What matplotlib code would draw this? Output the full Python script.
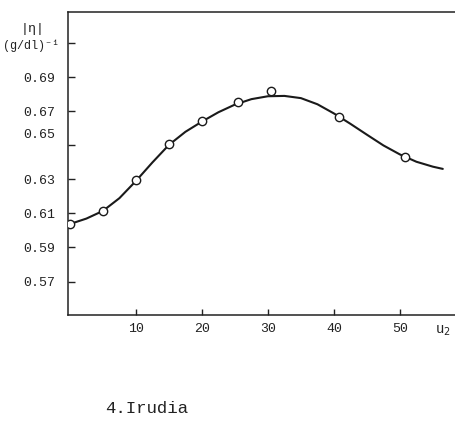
import matplotlib.pyplot as plt
import matplotlib.transforms as mtransforms

# measured points (u2, |eta|)
u2 = [0, 5, 10, 15, 20, 25.5, 30.5, 40.7, 50.8]
eta = [0.6038, 0.6115, 0.6297, 0.6509, 0.6644, 0.6756, 0.6821, 0.6668, 0.6432]

# hand-drawn fitting curve
curve_x = [0, 2.5, 5, 7.5, 10, 12.5, 15, 17.5, 20, 22.5, 25, 27.5, 30,
           32.5, 35, 37.5, 40, 42.5, 45, 47.5, 50, 52.5, 55, 56.5]
curve_y = [0.6038, 0.6070, 0.6115, 0.6190, 0.6291, 0.6400, 0.6503, 0.6580,
           0.6640, 0.6695, 0.6740, 0.6772, 0.6789, 0.6791, 0.6778, 0.6742,
           0.6688, 0.6627, 0.6563, 0.6500, 0.6447, 0.6404, 0.6375, 0.6362]

yticks = [0.57, 0.59, 0.61, 0.63, 0.65, 0.67, 0.69, 0.71]
ytick_labels = ["0.57", "0.59", "0.61", "0.63", "0.65", "0.67", "0.69", ""]
xticks = [10, 20, 30, 40, 50]

plt.rcParams['font.family'] = ['Liberation Mono', 'DejaVu Sans Mono']

fig = plt.figure(figsize=(4.56, 4.24), dpi=100)
ax = fig.add_axes([0.149, 0.257, 0.851, 0.715])

ax.plot(curve_x, curve_y, color="#1a1a1a", lw=1.5, zorder=2,
        solid_joinstyle="round", solid_capstyle="round")
ax.plot(u2, eta, "o", ms=6, mfc="white", mec="#1a1a1a", mew=1.0, zorder=3)

ax.set_xlim(-0.3, 58.5)
ax.set_ylim(0.5503, 0.7285)

ax.set_yticks(yticks)
ax.set_yticklabels(ytick_labels)
ax.set_xticks(xticks)
ax.set_xticklabels([str(t) for t in xticks])

ax.tick_params(axis="y", direction="in", length=5, width=1, pad=9,
               labelsize=9.5, colors="#222222")
ax.tick_params(axis="x", direction="in", length=4, width=1, pad=6,
               labelsize=9.5, colors="#222222")

# the 0.65 label sits a bit high in the original
lab = ax.get_yticklabels()[4]
lab.set_transform(lab.get_transform() +
                  mtransforms.ScaledTranslation(0, 0.12, fig.dpi_scale_trans))

ax.spines["right"].set_visible(False)
for s in ["left", "bottom", "top"]:
    ax.spines[s].set_linewidth(1.1)
    ax.spines[s].set_color("#222222")

fig.text(0.072, 0.925, "|η|", fontsize=9.5, ha="center", color="#222222")
fig.text(0.068, 0.885, "(g/dl)⁻¹", fontsize=8.5, ha="center", color="#222222")
ax.text(55.3, 0.5455, "u$_2$", fontsize=10, ha="left", va="top",
        color="#222222")

fig.text(0.23, 0.02, "4.Irudia", fontsize=12.5, ha="left", va="bottom",
         color="#222222")

fig.savefig("out.png", dpi=100)
